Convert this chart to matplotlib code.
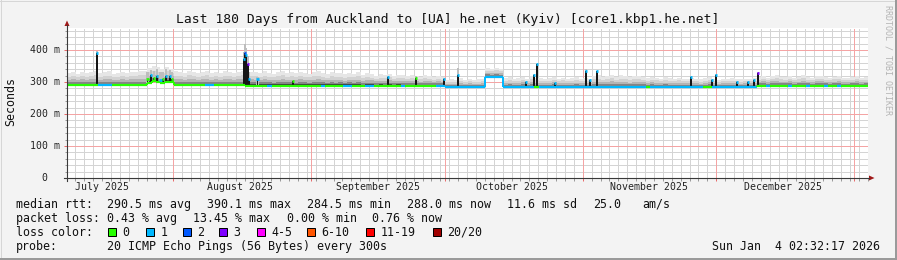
import datetime as dt
import numpy as np
import matplotlib
matplotlib.use("Agg")
import matplotlib.pyplot as plt
from matplotlib.lines import Line2D
from matplotlib.patches import Polygon, Rectangle
from matplotlib.ticker import FixedLocator
from matplotlib.transforms import blended_transform_factory

W, H = 897, 260
MONO = "DejaVu Sans Mono"

start = dt.datetime(2025, 7, 8, 2, 32, 17)
span_days = 180

# median rtt per day (ms)
median_ms = ([290] * 18 + [298, 302, 300, 297, 301, 299] + [290] * 16
             + [289] * 45 + [285] * 9 + [317] * 4 + [285] * 57 + [289] * 25)

# loss bucket per day (index into loss_labels)
loss_idx = ([0] * 7 + [1] * 3 + [0] * 21 + [1] * 2 + [0] * 12 + [1] + [0] * 11
            + [1] + [0] * 4 + [1] * 2 + [0] * 3 + [1] * 2 + [0] * 6 + [1] + [0] * 7
            + [1] * 22 + [0] + [1] * 24 + [0] + [1] * 12 + [0] * 2 + [1] * 10
            + [0] * 2 + [1] + [0] * 4 + [1] + [0] * 3 + [1] + [0] * 3 + [1]
            + [0] * 2 + [1] + [0] * 6)

# top of the smoke per day (ms)
smoke_top_ms = [328, 330, 326, 332, 329, 331, 335, 327, 330, 333,
                326, 329, 331, 327, 332, 330, 334, 336,
                345, 350, 347, 342, 348, 340,
                333, 330, 328, 334, 331, 327, 332, 336, 329, 331,
                328, 333, 330, 327, 332, 335,
                340, 332,
                331, 328, 333, 329, 326, 330, 334, 328, 331, 327,
                332, 329, 326, 330, 333, 328, 325, 331, 327, 329,
                324, 328, 326, 330, 322, 327, 325, 320, 324, 322,
                326, 319, 323, 321, 318, 322, 320, 317, 321, 318,
                316, 320, 315,
                306, 308, 305, 312, 307, 309, 306, 308, 310,
                344, 342, 345, 340,
                312, 315, 310, 313, 316, 311, 318, 314, 312, 309,
                313, 316, 311, 314, 310, 312, 315, 311, 313, 309,
                318, 322, 316, 320, 323, 317, 321, 319, 315, 318,
                320, 316, 313, 317, 314, 311, 315, 312, 310, 314,
                311, 309, 313, 310, 308, 312, 316, 310, 307, 311,
                309, 313, 310, 308, 311, 309, 312,
                316, 320, 314, 318, 322, 317, 315, 319, 313, 317,
                321, 316, 314, 318, 320, 315, 313, 317, 319, 314,
                312, 316, 318, 313, 315]

# short spikes (day offset, median ms, smoke top ms, loss bucket)
spike_day = [6.7, 18.1, 18.9, 19.6, 20.2, 21.0, 21.6, 22.2, 23.1, 23.6,
             39.7, 40.0, 40.3, 40.6, 40.9, 42.8, 50.8, 72.1, 78.4, 84.7,
             87.9, 103.1, 104.9, 105.6, 109.7, 116.6, 117.5, 119.1,
             140.2, 145.0, 145.9, 150.6, 153.0, 154.4, 155.3]
spike_med = [392, 309, 322, 313, 318, 305, 310, 320, 318, 308,
             372, 390, 385, 355, 309, 309, 302, 316, 313, 310,
             322, 300, 322, 355, 297, 336, 305, 333,
             316, 306, 322, 300, 300, 305, 328]
spike_top = [398, 330, 338, 335, 340, 330, 332, 342, 338, 330,
             395, 418, 405, 380, 330, 315, 306, 320, 318, 314,
             343, 303, 326, 358, 300, 340, 308, 336,
             320, 310, 325, 304, 304, 309, 332]
spike_loss = [1, 0, 1, 0, 1, 1, 0, 1, 1, 0,
              1, 2, 1, 3, 1, 1, 0, 1, 0, 1,
              1, 1, 1, 1, 1, 1, 1, 1,
              1, 1, 1, 1, 1, 1, 3]

loss_labels = ["0", "1", "2", "3", "4-5", "6-10", "11-19", "20/20"]
loss_colors = ["#26ff00", "#00b8ff", "#0059ff", "#7e00ff",
               "#ff00ff", "#ff5500", "#ff0000", "#a00000"]
loss_box_x = [108, 146, 183, 219, 257, 307, 366, 433]

assert len(median_ms) == len(loss_idx) == len(smoke_top_ms) == span_days


def fx(x):
    return x / W


def fy(y):
    return 1 - y / H


def day_of(t):
    return (t - start).total_seconds() / 86400.0


fig = plt.figure(figsize=(W / 100, H / 100), dpi=100, facecolor="#f3f3f3")
ax = fig.add_axes([fx(67), fy(178), (868 - 67) / W, (178 - 28) / H])
ax.set_facecolor("white")
ax.set_xlim(0, span_days)
ax.set_ylim(0, 469)
for s in ax.spines.values():
    s.set_visible(False)

# grid
month_starts = [dt.datetime(2025, m, 1) for m in range(8, 13)] + [dt.datetime(2026, 1, 1)]
major_x = [day_of(t) for t in month_starts]
minor_x = []
t = dt.datetime(2025, 7, 10)
while day_of(t) < span_days:
    minor_x.append(day_of(t))
    t += dt.timedelta(days=2)

dots = (0, (1, 1))
grid_kw = dict(lw=0.72, ls=dots, antialiased=False)
for v in range(20, 469, 20):
    if v % 100:
        ax.axhline(v, color="#d4d4d4", zorder=0.5, **grid_kw)
for x in minor_x:
    ax.axvline(x, color="#d4d4d4", zorder=0.5, **grid_kw)
for v in range(100, 469, 100):
    ax.axhline(v, color="#f4a4a4", zorder=0.6, **grid_kw)
for x in major_x:
    ax.axvline(x, color="#f4a4a4", zorder=0.6, **grid_kw)

# ticks (no labels, drawn by hand below)
ax.yaxis.set_major_locator(FixedLocator(range(100, 469, 100)))
ax.yaxis.set_minor_locator(FixedLocator([v for v in range(20, 469, 20) if v % 100]))
ax.xaxis.set_major_locator(FixedLocator(major_x))
ax.xaxis.set_minor_locator(FixedLocator(minor_x))
ax.tick_params(which="both", labelleft=False, labelbottom=False, direction="out", width=0.72)
ax.tick_params(which="major", length=2.2, color="#e86a6a")
ax.tick_params(which="minor", length=1.8, color="#9a9a9a")

# smoke
days = np.arange(span_days + 1)
med = np.array(median_ms + median_ms[-1:], dtype=float)
top = np.array(smoke_top_ms + smoke_top_ms[-1:], dtype=float)
shades = [(1.0, "#e6e6e6"), (0.7, "#d2d2d2"), (0.45, "#b4b4b4"),
          (0.25, "#858585"), (0.1, "#3e3e3e")]
for frac, col in shades:
    ax.fill_between(days, med - 1.5, med + (top - med) * frac, step="post",
                    color=col, lw=0, zorder=2)

# spikes: smoke column + dark core
sp_base = np.array([median_ms[int(d)] for d in spike_day], dtype=float)
ax.bar(spike_day, np.array(spike_top) - sp_base, bottom=sp_base, width=0.5,
       color="#bdbdbd", lw=0, zorder=2.5)
ax.bar(spike_day, np.array(spike_med) - sp_base, bottom=sp_base, width=0.4,
       color="#161616", lw=0, zorder=2.6)

# median line coloured by loss
seg_colors = [loss_colors[i] for i in loss_idx]
ax.hlines(median_ms, days[:-1], days[1:], colors=seg_colors, lw=1.6, zorder=3)
for d in range(1, span_days):
    if median_ms[d] != median_ms[d - 1]:
        ax.vlines(d, median_ms[d - 1], median_ms[d], colors=seg_colors[d], lw=1.4, zorder=3)
ax.hlines(spike_med, np.array(spike_day) - 0.25, np.array(spike_day) + 0.25,
          colors=[loss_colors[i] for i in spike_loss], lw=2.0, zorder=3.2)

# axis lines with arrows
axis_col = "#3a3a3a"
fig.add_artist(Line2D([fx(67), fx(67)], [fy(181), fy(25)], color=axis_col, lw=0.8))
fig.add_artist(Line2D([fx(64), fx(869)], [fy(178), fy(178)], color=axis_col, lw=0.8))
fig.add_artist(Polygon([[fx(64.5), fy(26)], [fx(69.5), fy(26)], [fx(67), fy(20.5)]],
                       closed=True, color="#a01818", lw=0))
fig.add_artist(Polygon([[fx(869), fy(175.5)], [fx(869), fy(180.5)], [fx(874.5), fy(178)]],
                       closed=True, color="#a01818", lw=0))

# y tick labels
ytr = blended_transform_factory(fig.transFigure, ax.transData)
for v, lab in [(0, "0"), (100, "100 m"), (200, "200 m"), (300, "300 m"), (400, "400 m")]:
    xr = 47.5 if v == 0 else 60
    ax.text(fx(xr), v, lab, transform=ytr, ha="right", va="center",
            family=MONO, fontsize=7.1, color="#222222")

# month labels, centred on the 16th
xtr = blended_transform_factory(ax.transData, fig.transFigure)
for m, name in [(7, "July"), (8, "August"), (9, "September"), (10, "October"),
                (11, "November"), (12, "December")]:
    d = day_of(dt.datetime(2025, m, 16))
    ax.text(d, fy(187.5), f"{name} 2025", transform=xtr,
            ha="center", va="center", family=MONO, fontsize=7.1, color="#222222")

# title, axis label, credit
fig.text(fx(448), fy(19), "Last 180 Days from Auckland to [UA] he.net (Kyiv) [core1.kbp1.he.net]",
         ha="center", va="center", family=MONO, fontsize=9.4, color="#111111")
fig.text(fx(10.5), fy(102), "Seconds", rotation=90, ha="center", va="center",
         family=MONO, fontsize=8.4, color="#111111")
fig.text(fx(887.5), fy(60), "RRDTOOL / TOBI OETIKER", rotation=-90, ha="center", va="center",
         family=MONO, fontsize=6, color="#b4b4b4")


# legend rows
def row(y, parts):
    for x, s in parts:
        fig.text(fx(x), fy(y), s, ha="left", va="center", family=MONO, fontsize=8.4, color="#111111")


row(204.3, [(16, "median rtt:"), (107.3, "290.5 ms avg"), (207.3, "390.1 ms max"),
            (307.3, "284.5 ms min"), (406.7, "288.0 ms now"), (507.3, "11.6 ms sd"),
            (593.3, "25.0"), (642.7, "am/s")])
row(218.3, [(16, "packet loss:"), (107.3, "0.43 % avg"), (193.3, "13.45 % max"),
            (286.7, "0.00 % min"), (372.3, "0.76 % now")])
row(232.3, [(16, "loss color:")])
for bx, lab, col in zip(loss_box_x, loss_labels, loss_colors):
    fig.add_artist(Rectangle((fx(bx), fy(236)), 8 / W, 8 / H, facecolor=col,
                             edgecolor="#000000", lw=0.72))
    row(232.3, [(bx + 14.5, lab)])
row(246.3, [(16, "probe:"), (107.3, "20 ICMP Echo Pings (56 Bytes) every 300s")])
fig.text(fx(880), fy(246.3), "Sun Jan  4 02:32:17 2026", ha="right", va="center",
         family=MONO, fontsize=8.4, color="#111111")

# 3d frame
fig.add_artist(Line2D([0, 1], [fy(0.5), fy(0.5)], color="#d6d6d6", lw=0.72))
fig.add_artist(Line2D([fx(0.5), fx(0.5)], [0, 1], color="#d6d6d6", lw=0.72))
fig.add_artist(Line2D([0, 1], [fy(259), fy(259)], color="#9a9a9a", lw=1.44))
fig.add_artist(Line2D([fx(896), fx(896)], [0, 1], color="#9a9a9a", lw=1.44))

fig.savefig("out.png", dpi=100, facecolor=fig.get_facecolor())
